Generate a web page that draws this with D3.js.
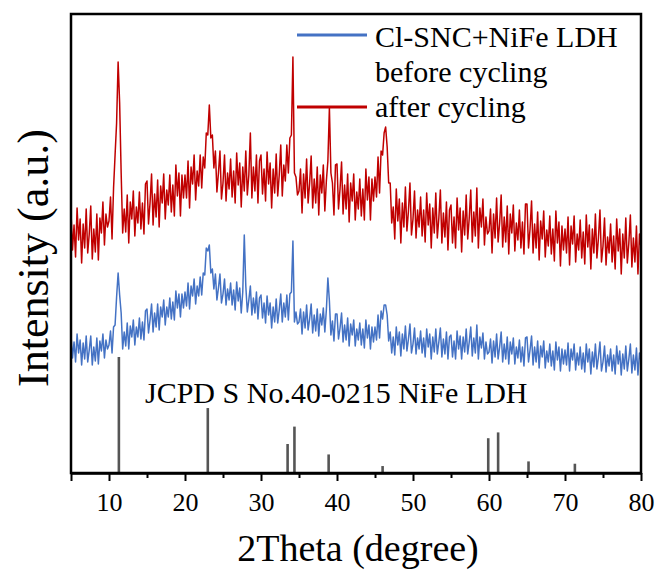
<!DOCTYPE html>
<html><head><meta charset="utf-8">
<script src="https://cdn.jsdelivr.net/npm/d3@7/dist/d3.min.js"></script>
<style>body{margin:0;background:#fff}svg{display:block}</style>
</head><body><svg id="chart" width="660" height="579"></svg>
<script>
// ---- data (2θ grid: start 5°, step 0.2°, 376 points; intensity in a.u.) ----
const thetaStart = 5, thetaStep = 0.2;
const afterCycling = [
261,223,248,216,265,233,254,210,249,225,264,220,239,267,214,244,221,259,213,255,240,271,228,259,246,
252,276,234,285,318,350,411,370,300,240,264,241,278,230,271,254,282,237,266,250,281,244,270,239,289,
292,249,270,299,248,279,256,293,246,287,270,299,254,283,268,298,261,288,257,308,277,300,257,298,275,
298,275,312,265,306,289,318,273,302,287,318,285,316,305,340,338,368,335,338,305,322,281,300,322,274,
290,318,272,300,284,314,276,302,270,320,288,310,266,306,282,322,278,298,340,275,306,282,318,270,312,
318,279,304,272,321,289,310,265,304,280,319,277,298,328,277,308,292,328,300,335,338,416,300,296,278,
282,304,260,299,275,314,270,290,317,265,294,270,306,258,298,280,308,262,292,312,365,300,290,258,308,
309,264,284,311,259,288,264,299,251,290,272,299,253,281,264,294,257,284,253,304,273,296,253,294,272,
296,276,316,280,322,318,340,346,326,290,290,250,266,234,284,252,274,230,270,246,286,242,262,290,238,
254,282,235,263,246,276,237,263,231,280,248,269,225,265,240,280,235,255,283,230,260,236,271,223,263,
268,230,256,225,275,243,265,221,262,238,278,234,255,283,231,261,237,285,225,265,246,274,228,256,239,
242,264,220,259,235,275,231,250,278,226,256,231,267,219,259,240,268,222,250,233,263,225,251,219,269,
269,225,244,272,220,249,225,261,213,252,234,262,216,243,227,257,219,244,212,262,230,251,207,247,223,
244,220,256,208,247,229,257,211,239,223,253,215,241,209,258,226,248,204,244,220,259,215,235,263,211,
227,255,208,236,220,249,211,237,204,254,222,244,199,239,215,255,210,230,258,206,235,211,247,199,239,
225];
const beforeCycling = [
138,115,131,111,139,120,133,108,130,114,137,111,123,137,108,126,112,135,109,132,122,139,115,133,124,
128,142,120,146,148,176,200,178,160,124,141,127,150,124,147,136,153,128,146,136,155,134,151,133,162,
164,140,153,169,141,160,146,169,143,166,156,173,148,166,156,175,154,171,153,182,165,179,156,179,165,
181,167,190,164,187,177,194,169,187,177,196,178,200,198,225,222,228,200,204,184,199,173,185,199,170,
179,194,168,184,173,190,168,183,163,191,172,185,160,181,238,187,161,173,187,158,175,160,181,154,175,
178,155,170,150,177,158,170,145,166,151,174,150,163,179,151,170,156,178,153,179,181,232,151,161,149,
151,164,139,161,145,168,143,154,169,140,158,142,164,137,159,148,165,141,163,195,172,138,152,132,159,
159,134,145,160,131,148,133,155,127,149,138,153,127,144,133,150,128,144,125,153,135,148,124,146,131,
146,133,158,135,162,154,168,168,158,132,141,120,136,118,146,128,141,117,139,124,147,122,134,149,120,
129,145,119,135,124,142,120,135,116,144,126,139,114,136,121,144,119,131,145,116,134,119,141,114,136,
138,116,132,114,142,124,137,114,136,121,144,119,131,146,117,135,120,148,114,136,125,140,114,131,119,
121,134,110,132,116,139,114,126,141,111,129,114,136,109,131,119,135,109,126,115,133,111,126,107,135,
136,111,123,137,108,126,111,132,105,127,116,132,105,122,111,129,107,122,103,131,113,126,102,124,109,
123,108,130,102,124,113,129,103,120,108,126,104,120,101,129,111,124,99,121,106,129,104,116,131,102,
111,127,101,118,107,124,102,118,99,127,109,122,98,119,104,127,102,114,129,100,118,103,125,98,120,
112];
// JCPDS No.40-0215 reference lines
const refPositions = [11.3, 23.0, 33.5, 34.4, 38.9, 46.0, 59.9, 61.2, 65.2, 71.3];
const refIntensity = [100, 56, 25, 40, 16, 6, 30, 35, 10, 8];
const xTickValues = [5,10,15,20,25,30,35,40,45,50,55,60,65,70,75,80];
const xLabelValues = [10,20,30,40,50,60,70,80];
const seriesNames = ["Cl-SNC+NiFe LDH", "before cycling", "after cycling"];
const refLabel = "JCPD S No.40-0215 NiFe LDH";

// ---- drawing ----
const svg = d3.select("#chart");
const FONT = "'Liberation Serif','Times New Roman',serif";
const L = 71, R = 641, T = 14, B = 473;
const x = d3.scaleLinear().domain([5, 80]).range([L, R]);
const y = d3.scaleLinear().domain([0, 459]).range([B, T]);
const yRef = d3.scaleLinear().domain([0, 100]).range([B, 357]);

const toPts = arr => arr.map((v, i) => [thetaStart + i * thetaStep, v]);
const line = d3.line().x(d => x(d[0])).y(d => y(d[1]));

svg.append("defs").append("clipPath").attr("id", "clip")
  .append("rect").attr("x", L).attr("y", T).attr("width", R - L).attr("height", B - T);

const g = svg.append("g").attr("clip-path", "url(#clip)");
g.append("path").datum(toPts(afterCycling)).attr("d", line)
  .attr("fill", "none").attr("stroke", "#c00000").attr("stroke-width", 1.5).attr("stroke-linejoin", "round");
g.append("path").datum(toPts(beforeCycling)).attr("d", line)
  .attr("fill", "none").attr("stroke", "#4472c4").attr("stroke-width", 1.5).attr("stroke-linejoin", "round");

// reference sticks
svg.append("g").selectAll("line").data(refPositions).join("line")
  .attr("x1", d => x(d)).attr("x2", d => x(d))
  .attr("y1", B).attr("y2", (d, i) => yRef(refIntensity[i]))
  .attr("stroke", "#555").attr("stroke-width", 2.6);

svg.append("text").attr("x", 145).attr("y", 403).attr("font-family", FONT)
  .attr("font-size", 30).attr("fill", "#000").text(refLabel);

// frame
svg.append("rect").attr("x", L).attr("y", T).attr("width", R - L).attr("height", B - T)
  .attr("fill", "none").attr("stroke", "#000").attr("stroke-width", 2.5);

// x axis
const ax = svg.append("g").attr("transform", `translate(0,${B})`)
  .call(d3.axisBottom(x).tickValues(xTickValues).tickSizeInner(8).tickSizeOuter(0).tickPadding(12)
    .tickFormat(d => xLabelValues.includes(d) ? d : ""));
ax.select(".domain").attr("stroke-width", 2.5);
ax.selectAll(".tick line").attr("stroke-width", 2)
  .attr("y2", d => (d % 10 === 0 || d === 5) ? 8 : 5);
ax.selectAll(".tick text").attr("font-family", FONT).attr("font-size", 26).attr("fill", "#000");

// axis titles
svg.append("text").attr("x", 358).attr("y", 561).attr("text-anchor", "middle")
  .attr("font-family", FONT).attr("font-size", 38).text("2Theta (degree)");
svg.append("text").attr("transform", "translate(48,258) rotate(-90)").attr("text-anchor", "middle")
  .attr("font-family", FONT).attr("font-size", 44).text("Intensity (a.u.)");

// legend
const lg = svg.append("g");
lg.append("line").attr("x1", 297).attr("x2", 367).attr("y1", 35).attr("y2", 35)
  .attr("stroke", "#4472c4").attr("stroke-width", 3);
lg.append("line").attr("x1", 297).attr("x2", 367).attr("y1", 107).attr("y2", 107)
  .attr("stroke", "#c00000").attr("stroke-width", 3);
lg.append("text").attr("x", 375).attr("y", 47).attr("font-family", FONT).attr("font-size", 30).text(seriesNames[0]);
lg.append("text").attr("x", 375).attr("y", 82).attr("font-family", FONT).attr("font-size", 30).text(seriesNames[1]);
lg.append("text").attr("x", 375).attr("y", 117).attr("font-family", FONT).attr("font-size", 30).text(seriesNames[2]);
</script></body></html>
